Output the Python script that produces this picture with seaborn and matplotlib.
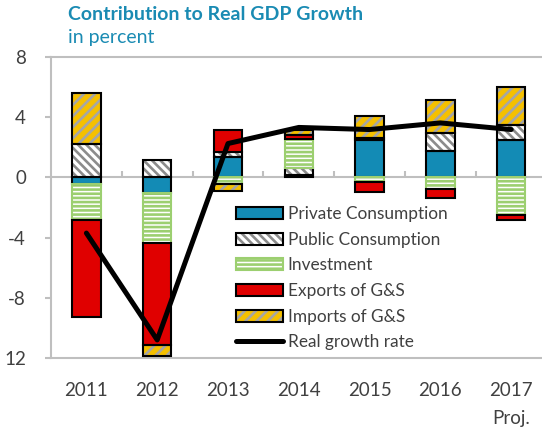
import matplotlib
matplotlib.use("Agg")
import matplotlib.pyplot as plt
import numpy as np
import seaborn as sns
from matplotlib.patches import Patch
from matplotlib.lines import Line2D
from matplotlib.legend_handler import HandlerTuple

# values (percentage points)
years = ["2011", "2012", "2013", "2014", "2015", "2016", "2017"]
private = [-0.42, -1.05, 1.35, 0.15, 2.49, 1.74, 2.50]
public = [2.20, 1.18, 0.35, 0.50, 0.16, 1.19, 0.97]
investment = [-2.38, -3.30, -0.42, 1.90, -0.33, -0.78, -2.48]
exports = [-6.50, -6.80, 1.43, 0.28, -0.62, -0.62, -0.34]
imports = [3.40, -0.72, -0.51, 0.32, 1.45, 2.22, 2.51]
growth = [-3.70, -10.80, 2.25, 3.32, 3.18, 3.62, 3.18]

y_ticks = [8, 4, 0, -4, -8, -12]
y_tick_labels = ["8", "4", "0", "-4", "-8", "12"]

TEXT = "#404040"
GRID = "#bfbfbf"
TITLE = "#1a8bb3"

# name, fill colour, hatch, hatch colour, outline colour
styles = [
    ("Private Consumption", "#138bb5", None, None, "black"),
    ("Public Consumption", "white", "\\\\\\\\", "#8c8c8c", "black"),
    ("Investment", "white", "----", "#9ccf70", "#9ccf70"),
    ("Exports of G&S", "#e00000", None, None, "black"),
    ("Imports of G&S", "#f5c000", "///", "#a6a6a6", "black"),
]
series = [private, public, investment, exports, imports]

sns.set_style("white")
plt.rcParams["font.family"] = ["Lato", "DejaVu Sans"]
plt.rcParams["hatch.linewidth"] = 1.9

fig = plt.figure(figsize=(5.42, 4.33), dpi=100)
ax = fig.add_axes([51 / 542, 1 - 358 / 433, 495.6 / 542, 301 / 433])

pos_base = np.zeros(len(years))
neg_base = np.zeros(len(years))
handles = []
for (name, fill, hatch, hcol, edge), vals in zip(styles, series):
    v = np.array(vals, dtype=float)
    bottom = np.where(v >= 0, pos_base, neg_base)
    if hatch:
        sns.barplot(x=years, y=v, bottom=bottom, width=0.4, saturation=1,
                    color=fill, facecolor=fill, hatch=hatch, edgecolor=hcol,
                    linewidth=0, errorbar=None, ax=ax, zorder=2)
    sns.barplot(x=years, y=v, bottom=bottom, width=0.4, saturation=1,
                color=fill, facecolor=(fill if not hatch else "none"),
                edgecolor=edge, linewidth=1.5, errorbar=None, ax=ax, zorder=3)
    pos_base += np.where(v > 0, v, 0)
    neg_base += np.where(v < 0, v, 0)
    if hatch:
        h = (Patch(facecolor=fill, hatch=hatch, edgecolor=hcol, linewidth=0),
             Patch(facecolor="none", edgecolor=edge, linewidth=1.5))
    else:
        h = Patch(facecolor=fill, edgecolor=edge, linewidth=1.5)
    handles.append(h)

sns.lineplot(x=np.arange(len(years)), y=growth, color="black", linewidth=3.6,
             ax=ax, zorder=5, solid_capstyle="round")
handles.append(Line2D([], [], color="black", linewidth=3.6, solid_capstyle="round"))
labels = [s[0] for s in styles] + ["Real growth rate"]

ax.set_xlim(-0.5, 6.5)
ax.set_ylim(-12, 8)
ax.set_xlabel("")
ax.set_ylabel("")

# zero line with small category separators
ax.axhline(0, color=GRID, linewidth=1.5, zorder=1)
ax.vlines(np.arange(0.5, len(years) - 0.5), 0, 0.45, color=GRID, linewidth=1.5, zorder=1)

for side in ["top", "bottom", "left"]:
    ax.spines[side].set_color(GRID)
    ax.spines[side].set_linewidth(1.5)
ax.spines["right"].set_visible(False)

ax.set_yticks(y_ticks)
ax.set_yticklabels(y_tick_labels)
ax.set_xticks(np.arange(len(years)))
ax.set_xticklabels(years)
ax.tick_params(axis="y", left=True, length=4, width=1.5, color=GRID, pad=14,
               labelsize=13.5, labelcolor=TEXT)
ax.tick_params(axis="x", length=0, pad=17, labelsize=13.5, labelcolor=TEXT)

ax.text(6.0, -0.2, "Proj.", transform=ax.get_xaxis_transform(), ha="center",
        va="center", fontsize=13.5, color=TEXT)

leg = ax.legend(handles, labels, handler_map={tuple: HandlerTuple(ndivide=1)},
                loc="upper left", bbox_to_anchor=(236 / 542, 1 - 206 / 433),
                bbox_transform=fig.transFigure, frameon=False, fontsize=12.4,
                handlelength=2.7, handleheight=0.7, handletextpad=0.3,
                labelspacing=0.56, borderpad=0, borderaxespad=0)
for t in leg.get_texts():
    t.set_color(TEXT)

fig.text(68 / 542, 1 - 15 / 433, "Contribution to Real GDP Growth", fontsize=14,
         fontweight="bold", color=TITLE, va="center", ha="left")
fig.text(68 / 542, 1 - 38 / 433, "in percent", fontsize=14, color=TITLE,
         va="center", ha="left")

fig.savefig("out.png", dpi=100)
